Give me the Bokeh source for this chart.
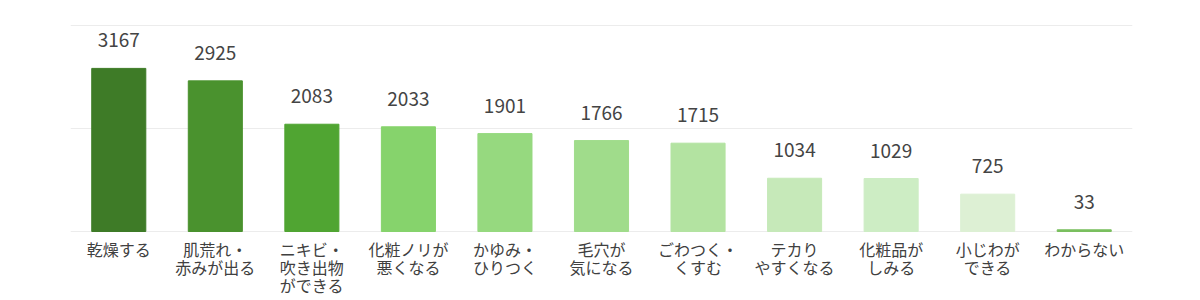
from bokeh.plotting import figure
from bokeh.models import ColumnDataSource, LabelSet, FixedTicker, Range1d
from bokeh.core.properties import value
from bokeh.embed import file_html
from bokeh.resources import INLINE

categories = ["乾燥する", "肌荒れ・\n赤みが出る", "ニキビ・\n吹き出物\nができる", "化粧ノリが\n悪くなる",
              "かゆみ・\nひりつく", "毛穴が\n気になる", "ごわつく・\nくすむ", "テカり\nやすくなる",
              "化粧品が\nしみる", "小じわが\nできる", "わからない"]
values = [3167, 2925, 2083, 2033, 1901, 1766, 1715, 1034, 1029, 725, 33]
colors = ["#3e7b27", "#4a922e", "#50a532", "#86d36c", "#96d97f", "#a0dc8b",
          "#b3e3a1", "#c6e9b9", "#cdedc4", "#ddf0d4", "#7abf5f"]

xs = list(range(len(categories)))
src = ColumnDataSource(dict(x=xs, top=values, color=colors, label=[str(v) for v in values]))

# one row per text line of the category labels, each centred on its own
lx, ltext, loff = [], [], []
for i, c in enumerate(categories):
    for j, line in enumerate(c.split("\n")):
        lx.append(i)
        ltext.append(line)
        loff.append(-5 - 18 * j)
lsrc = ColumnDataSource(dict(x=lx, y=[0] * len(lx), text=ltext, off=loff))

# frame: y from 20 to 300 px; 4000 units = 206 px
upp = 4000 / 206.0
p = figure(width=1200, height=300, output_backend="svg", toolbar_location=None,
           x_range=Range1d(-0.5, len(categories) - 0.5),
           y_range=Range1d(-69 * upp, 4000 + 5 * upp),
           min_border_left=70, min_border_right=68, min_border_top=20, min_border_bottom=0)
p.vbar(x="x", top="top", width=0.56, bottom=0, color="color", source=src)

labels = LabelSet(x="x", y="top", text="label", source=src, text_align="center",
                  text_baseline="alphabetic", y_offset=21, text_font=value("Noto Sans CJK JP"),
                  text_font_size="19px", text_color="#444444")
p.add_layout(labels)

cat_labels = LabelSet(x="x", y="y", text="text", source=lsrc, text_align="center",
                      text_baseline="top", y_offset="off", text_font=value("Noto Sans CJK JP"),
                      text_font_size="16px", text_color="#404040")
p.add_layout(cat_labels)

p.outline_line_color = None
p.background_fill_color = "white"
p.border_fill_color = "white"
p.xgrid.grid_line_color = None
p.ygrid.grid_line_color = "#ececec"
p.ygrid.ticker = FixedTicker(ticks=[0, 2000, 4000])
p.yaxis.visible = False
p.xaxis.visible = False

open("out.html", "w").write(file_html(p, INLINE))
